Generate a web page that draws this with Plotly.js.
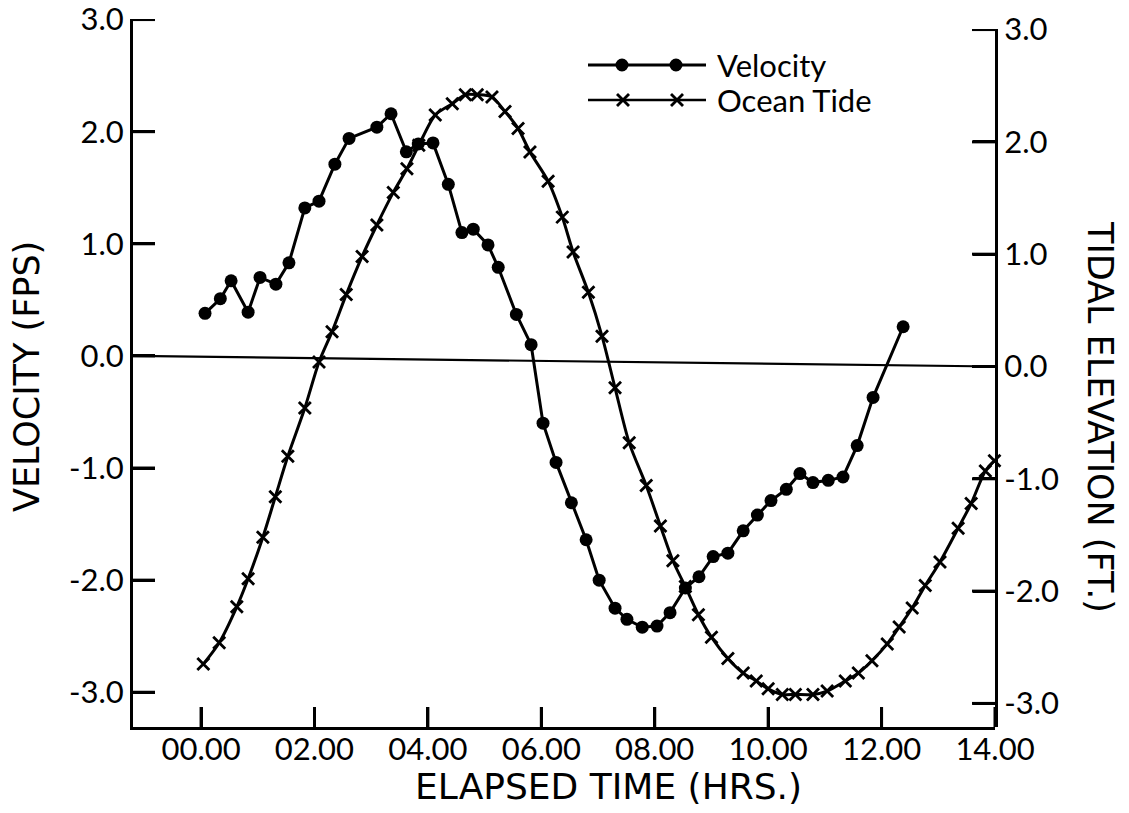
<!DOCTYPE html>
<html>
<head>
<meta charset="utf-8">
<script src="https://cdn.plot.ly/plotly-3.0.1.min.js"></script>
<style>
  html, body { margin: 0; padding: 0; background: #ffffff; }
  #chart { width: 1129px; height: 813px; }
</style>
</head>
<body>
<div id="chart"></div>
<script>
// ---------- data ----------
const velocityHours = [0.07, 0.34, 0.53, 0.83, 1.04, 1.32, 1.55, 1.83, 2.08, 2.36, 2.61, 3.10, 3.35, 3.62, 3.83, 4.09, 4.36, 4.60, 4.80, 5.06, 5.24, 5.56, 5.82, 6.03, 6.26, 6.53, 6.79, 7.02, 7.30, 7.51, 7.78, 8.04, 8.27, 8.54, 8.78, 9.03, 9.29, 9.56, 9.81, 10.05, 10.32, 10.56, 10.79, 11.06, 11.32, 11.57, 11.85, 12.38];
const velocityFps = [0.38, 0.51, 0.67, 0.39, 0.70, 0.64, 0.83, 1.32, 1.38, 1.71, 1.94, 2.04, 2.16, 1.82, 1.89, 1.90, 1.53, 1.10, 1.13, 0.99, 0.79, 0.37, 0.10, -0.60, -0.95, -1.31, -1.64, -2.00, -2.25, -2.35, -2.42, -2.41, -2.29, -2.07, -1.97, -1.79, -1.76, -1.56, -1.42, -1.29, -1.19, -1.05, -1.13, -1.11, -1.08, -0.80, -0.37, 0.26];

const tideHours = [0.04, 0.32, 0.63, 0.83, 1.09, 1.31, 1.53, 1.83, 2.08, 2.31, 2.56, 2.84, 3.10, 3.39, 3.63, 3.84, 4.13, 4.43, 4.66, 4.87, 5.13, 5.36, 5.59, 5.80, 6.12, 6.37, 6.56, 6.83, 7.07, 7.30, 7.55, 7.85, 8.10, 8.32, 8.54, 8.77, 9.00, 9.29, 9.56, 9.79, 10.00, 10.25, 10.48, 10.79, 11.04, 11.36, 11.59, 11.83, 12.10, 12.31, 12.54, 12.77, 13.03, 13.35, 13.58, 13.83, 13.99];
const tideFt = [-2.65, -2.46, -2.14, -1.89, -1.52, -1.16, -0.80, -0.37, 0.04, 0.31, 0.64, 0.98, 1.26, 1.55, 1.76, 1.97, 2.24, 2.34, 2.42, 2.42, 2.40, 2.27, 2.12, 1.91, 1.65, 1.33, 1.02, 0.66, 0.27, -0.19, -0.68, -1.06, -1.42, -1.73, -1.96, -2.21, -2.41, -2.60, -2.73, -2.80, -2.87, -2.92, -2.92, -2.92, -2.89, -2.80, -2.73, -2.62, -2.47, -2.32, -2.15, -1.95, -1.74, -1.44, -1.22, -0.93, -0.84];

const xTickValues = [0, 2, 4, 6, 8, 10, 12, 14];
const xTickLabels = ["00.00", "02.00", "04.00", "06.00", "08.00", "10.00", "12.00", "14.00"];
const yTickValues = [-3, -2, -1, 0, 1, 2, 3];
const yTickLabels = ["-3.0", "-2.0", "-1.0", "0.0", "1.0", "2.0", "3.0"];

const seriesNames = ["Velocity", "Ocean Tide"];
const titleX = "ELAPSED TIME (HRS.)";
const titleY = "VELOCITY (FPS)";
const titleY2 = "TIDAL ELEVATION (FT.)";

// ---------- layout geometry ----------
const W = 1129, H = 813;
const M = { l: 133, r: 134, t: 19, b: 86 };
const plotW = W - M.l - M.r, plotH = H - M.t - M.b;
const px = x => (x - M.l) / plotW;           // pixel -> paper x
const py = y => (H - M.b - y) / plotH;       // pixel -> paper y

const yRange = [-3.31, 3.005];
const y2Range = [-3.21, 3.005];
const y2Domain = [0, py(29)];

// y2 value -> y value (through the axes' ranges/domains)
function y2ToY(v) {
  const f = y2Domain[0] + (y2Domain[1] - y2Domain[0]) * (v - y2Range[0]) / (y2Range[1] - y2Range[0]);
  return yRange[0] + f * (yRange[1] - yRange[0]);
}

const FONT = "Lato, 'Open Sans', 'DejaVu Sans', sans-serif";
const TFONT = "'DejaVu Sans', Lato, sans-serif";
const INK = "#000000";

const traces = [
  {
    x: tideHours, y: tideFt, name: seriesNames[1],
    xaxis: "x", yaxis: "y2", type: "scatter", mode: "lines+markers",
    line: { color: INK, width: 3, shape: "spline", smoothing: 0.8 },
    marker: { symbol: "x-thin", size: 12, color: INK, line: { color: INK, width: 2.8 } },
    showlegend: false, cliponaxis: false
  },
  {
    x: velocityHours, y: velocityFps, name: seriesNames[0],
    xaxis: "x", yaxis: "y", type: "scatter", mode: "lines+markers",
    line: { color: INK, width: 3 },
    marker: { symbol: "circle", size: 13, color: INK },
    showlegend: false, cliponaxis: false
  }
];

const shapes = [
  // zero line joining the zeros of both vertical axes
  { type: "line", xref: "paper", yref: "y", x0: 0, x1: 1, y0: 0, y1: y2ToY(0),
    line: { color: INK, width: 2.2 } }
];

// tick marks pointing into the plot, placed at the tick values through the axes
const TICK_W = 3;
xTickValues.forEach(v => shapes.push({ type: "line", xref: "x", yref: "paper",
  x0: v, x1: v, y0: 0, y1: 20 / plotH, line: { color: INK, width: TICK_W } }));
yTickValues.forEach(v => shapes.push({ type: "line", xref: "paper", yref: "y",
  x0: 0, x1: 22 / plotW, y0: v, y1: v, line: { color: INK, width: TICK_W } }));
yTickValues.forEach(v => shapes.push({ type: "line", xref: "paper", yref: "y2",
  x0: 1 - 23 / plotW, x1: 1, y0: v, y1: v, line: { color: INK, width: TICK_W } }));

// legend drawn as shapes (two markers per sample line, as in the reference)
const legendRows = [
  { y: 65, xs: [622, 676], kind: "dot" },
  { y: 100, xs: [623, 677], kind: "x" }
];
const annotations = [];
legendRows.forEach((row, i) => {
  shapes.push({ type: "line", xref: "paper", yref: "paper",
    x0: px(588), x1: px(706), y0: py(row.y), y1: py(row.y),
    line: { color: INK, width: i === 0 ? 2.8 : 2.4 } });
  row.xs.forEach(cx => {
    if (row.kind === "dot") {
      shapes.push({ type: "circle", xref: "paper", yref: "paper",
        x0: px(cx - 6.5), x1: px(cx + 6.5), y0: py(row.y + 6.5), y1: py(row.y - 6.5),
        fillcolor: INK, line: { color: INK, width: 0 } });
    } else {
      const s = 6;
      shapes.push({ type: "line", xref: "paper", yref: "paper",
        x0: px(cx - s), x1: px(cx + s), y0: py(row.y - s), y1: py(row.y + s),
        line: { color: INK, width: 2.8 } });
      shapes.push({ type: "line", xref: "paper", yref: "paper",
        x0: px(cx - s), x1: px(cx + s), y0: py(row.y + s), y1: py(row.y - s),
        line: { color: INK, width: 2.8 } });
    }
  });
  annotations.push({ xref: "paper", yref: "paper", x: px(715), y: py(row.y),
    xanchor: "left", yanchor: "middle", showarrow: false,
    text: seriesNames[i], font: { family: FONT, size: 31, color: INK } });
});

annotations.push({ xref: "paper", yref: "paper", x: px(608), y: py(786),
  xanchor: "center", yanchor: "middle", showarrow: false, text: titleX,
  font: { family: TFONT, size: 36, color: INK } });
annotations.push({ xref: "paper", yref: "paper", x: px(27), y: py(377),
  xanchor: "center", yanchor: "middle", showarrow: false, text: titleY, textangle: -90,
  font: { family: TFONT, size: 35, color: INK } });
annotations.push({ xref: "paper", yref: "paper", x: px(1100), y: py(417),
  xanchor: "center", yanchor: "middle", showarrow: false, text: titleY2, textangle: 90,
  font: { family: TFONT, size: 35, color: INK } });

function axis(extra) {
  return Object.assign({
    showgrid: false, zeroline: false, showline: true, linecolor: INK, linewidth: 3,
    ticks: "inside", tickcolor: INK, tickwidth: 3, showticklabels: true,
    ticklabeloverflow: "allow",
    tickfont: { family: FONT, size: 31, color: INK }
  }, extra);
}

const layout = {
  width: W, height: H,
  margin: M,
  paper_bgcolor: "#ffffff", plot_bgcolor: "rgba(0,0,0,0)",
  showlegend: false,
  xaxis: axis({ range: [-1.2, 14], tickmode: "array", tickvals: xTickValues, ticktext: xTickLabels,
    ticklen: 20, anchor: "y", ticklabelstandoff: -7 }),
  yaxis: axis({ range: yRange, domain: [0, 1], tickmode: "array", tickvals: yTickValues, ticktext: yTickLabels,
    ticklen: 22, anchor: "x", side: "left" }),
  yaxis2: axis({ range: y2Range, domain: y2Domain, tickmode: "array", tickvals: yTickValues, ticktext: yTickLabels,
    ticklen: 22, anchor: "x", side: "right" }),
  shapes: shapes,
  annotations: annotations
};

Plotly.newPlot("chart", traces, layout, { staticPlot: true, displayModeBar: false });
</script>
</body>
</html>
